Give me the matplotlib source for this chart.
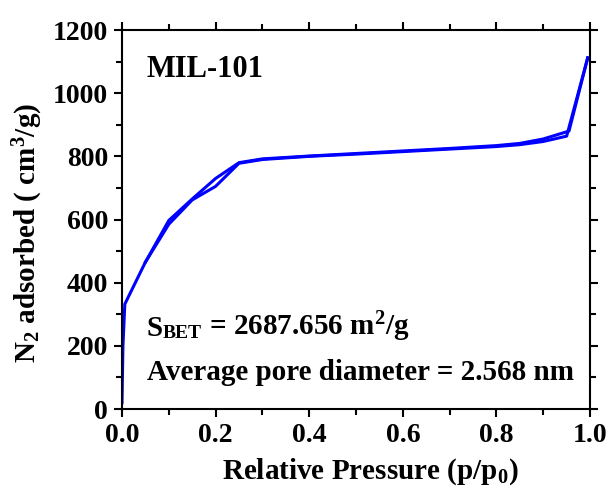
import matplotlib
matplotlib.use("Agg")
import matplotlib.pyplot as plt
from matplotlib.ticker import MultipleLocator

plt.rcParams['font.family'] = ['Liberation Serif', 'DejaVu Serif']
plt.rcParams['font.weight'] = 'bold'
plt.rcParams['axes.labelweight'] = 'bold'
plt.rcParams['mathtext.fontset'] = 'custom'
plt.rcParams['mathtext.rm'] = 'Liberation Serif:bold'
plt.rcParams['mathtext.it'] = 'Liberation Serif:bold'
plt.rcParams['mathtext.bf'] = 'Liberation Serif:bold'

# adsorption branch
p_ads = [0.0, 0.002, 0.006, 0.05, 0.1, 0.15, 0.2, 0.25, 0.3, 0.4, 0.5, 0.6, 0.7, 0.8, 0.85, 0.9, 0.95, 0.995]
v_ads = [20, 200, 332, 465, 585, 662, 705, 778, 790, 800, 807, 815, 823, 831, 837, 847, 864, 1112]
# desorption branch
p_des = [0.995, 0.955, 0.9, 0.85, 0.8, 0.7, 0.6, 0.5, 0.4, 0.3, 0.25, 0.2, 0.15, 0.1, 0.05]
v_des = [1112, 880, 855, 841, 834, 825, 817, 809, 801, 792, 780, 730, 665, 597, 465]

fig = plt.figure(figsize=(6.14, 4.96), dpi=100)
ax = fig.add_axes([0.1987, 0.1754, 0.7623, 0.7641])

ax.plot(p_ads, v_ads, color='#0000ff', lw=2.2)
ax.plot(p_des, v_des, color='#0000ff', lw=2.2)

ax.set_xlim(0, 1.0)
ax.set_ylim(0, 1200)
ax.xaxis.set_major_locator(MultipleLocator(0.2))
ax.xaxis.set_minor_locator(MultipleLocator(0.1))
ax.yaxis.set_major_locator(MultipleLocator(200))
ax.yaxis.set_minor_locator(MultipleLocator(100))
ax.xaxis.set_major_formatter(plt.FuncFormatter(lambda v, pos: f"{v:.1f}"))

ax.tick_params(which='both', direction='out', top=True, right=True, width=1.5)
ax.tick_params(which='major', length=6, labelsize=20, pad=4)
ax.tick_params(which='minor', length=4)
for s in ax.spines.values():
    s.set_linewidth(1.5)

ax.set_xlabel('Relative Pressure (p/p$_0$)', fontsize=21, fontweight='bold')
ax.set_ylabel('N$_2$ adsorbed ( cm$^3$/g)', fontsize=21, fontweight='bold')
ax.xaxis.set_label_coords(0.53, -0.125)
ax.yaxis.set_label_coords(-0.165, 0.465)

ax.text(0.053, 1052, 'MIL-101', fontsize=22, va='baseline', ha='left')

t1 = ax.text(0.053, 213, 'S', fontsize=21, va='bottom', ha='left')
t2 = ax.annotate('BET', xy=(1, 0), xycoords=t1, fontsize=14, va='bottom', ha='left')
ax.annotate(' = 2687.656 m$^2$/g', xy=(1, 0), xycoords=t2, fontsize=21, va='bottom', ha='left',
            xytext=(0, -1.5), textcoords='offset points')
ax.text(0.053, 92, 'Average pore diameter = 2.568 nm', fontsize=21, va='baseline', ha='left')

fig.savefig('out.png', dpi=100)
